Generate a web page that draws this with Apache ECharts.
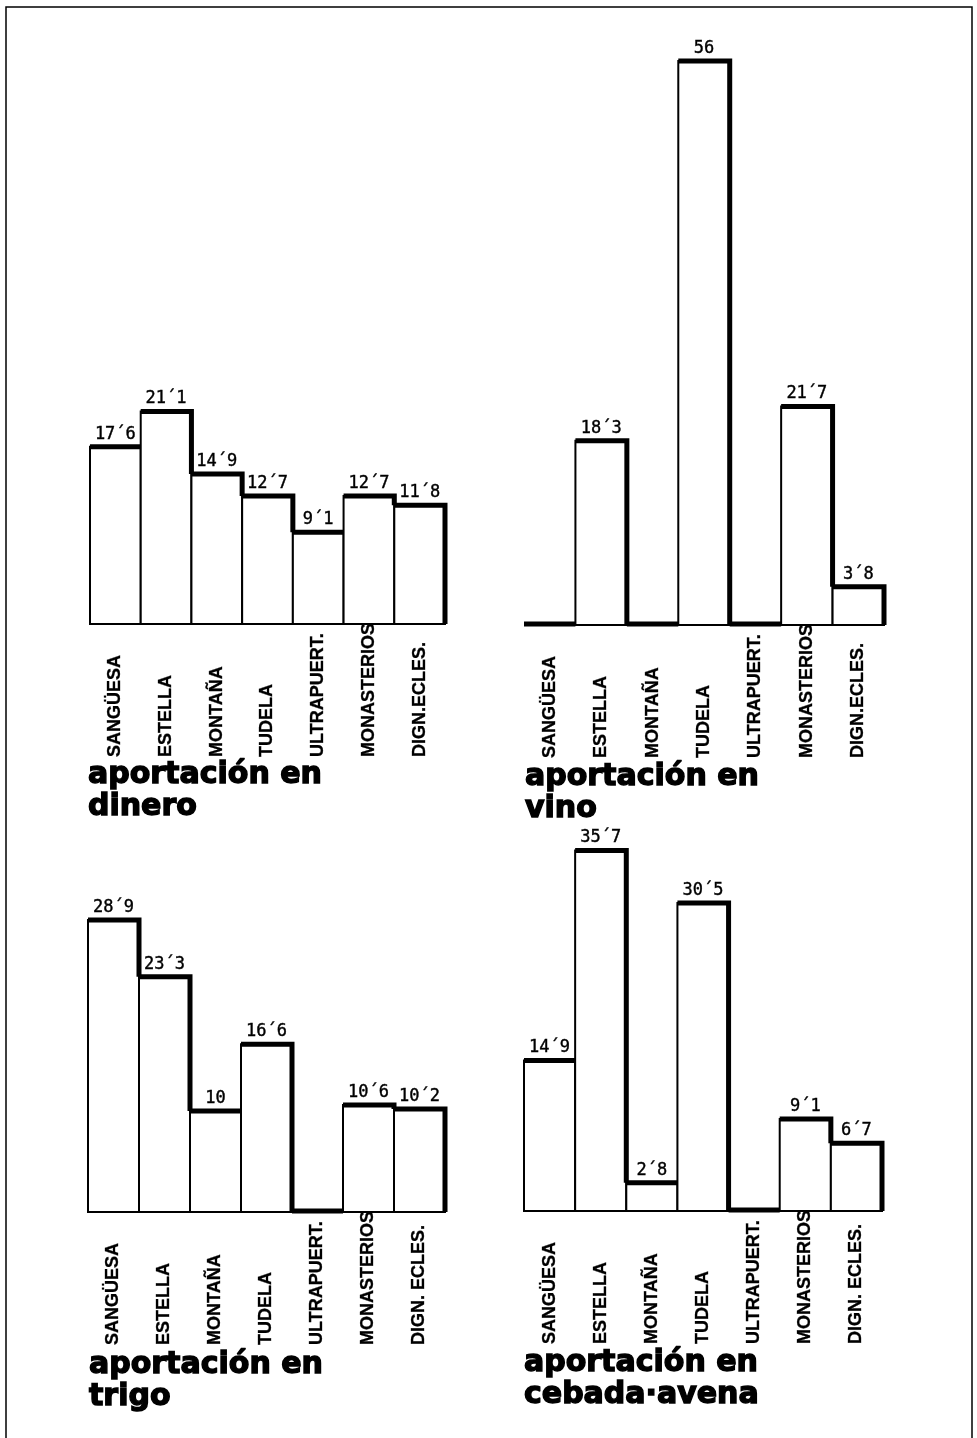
<!DOCTYPE html>
<html>
<head>
<meta charset="utf-8">
<script src="https://cdn.jsdelivr.net/npm/echarts@6/dist/echarts.min.js"></script>
<style>
html,body{margin:0;padding:0;background:#fff;}
#chart{width:977px;height:1438px;}
</style>
</head>
<body>
<div id="chart"></div>
<script>
// ---- data ----
const categoriesA = ['SANGÜESA', 'ESTELLA', 'MONTAÑA', 'TUDELA', 'ULTRAPUERT.', 'MONASTERIOS', 'DIGN.ECLES.'];
const categoriesB = ['SANGÜESA', 'ESTELLA', 'MONTAÑA', 'TUDELA', 'ULTRAPUERT.', 'MONASTERIOS', 'DIGN. ECLES.'];
const dinero = [17.6, 21.1, 14.9, 12.7, 9.1, 12.7, 11.8];
const vino = [0, 18.3, 0, 56, 0, 21.7, 3.8];
const trigo = [28.9, 23.3, 10, 16.6, 0, 10.6, 10.2];
const cebadaAvena = [14.9, 35.7, 2.8, 30.5, 0, 9.1, 6.7];
const titles = ['aportación en\ndinero', 'aportación en\nvino', 'aportación en\ntrigo', 'aportación en\ncebada·avena'];
const axisMax = 56;

function fmt(v) { return String(v).replace('.', '´'); }

const chart = echarts.init(document.getElementById('chart'));

const panels = [
  {cats: categoriesA, vals: dinero, left: 90, width: 355, bottom: 624, scale: 10.07, tLeft: 88, tTop: 759},
  {cats: categoriesA, vals: vino, left: 524, width: 360, bottom: 625, scale: 10.07, tLeft: 525, tTop: 761},
  {cats: categoriesB, vals: trigo, left: 88, width: 357, bottom: 1212, scale: 10.1, tLeft: 89, tTop: 1349},
  {cats: categoriesB, vals: cebadaAvena, left: 524, width: 358, bottom: 1211, scale: 10.1, tLeft: 524, tTop: 1347}
];

const grid = [], xAxis = [], yAxis = [], series = [], title = [];
panels.forEach((p, i) => {
  const h = axisMax * p.scale;
  grid.push({left: p.left, top: p.bottom - h, width: p.width, height: h, containLabel: false});
  xAxis.push({
    type: 'category', gridIndex: i, data: p.cats, boundaryGap: true,
    axisLine: {show: false}, axisTick: {show: false}, splitLine: {show: false},
    axisLabel: {
      interval: 0, rotate: 90, align: 'left', verticalAlign: 'middle', margin: 133,
      color: '#000', fontFamily: 'Liberation Sans', fontWeight: 'bold', fontSize: 18,
      textBorderColor: '#000', textBorderWidth: 0.3
    }
  });
  yAxis.push({
    type: 'value', gridIndex: i, min: 0, max: axisMax, show: false,
    splitLine: {show: false}
  });
  const vals = p.vals;
  series.push({
    type: 'custom', xAxisIndex: i, yAxisIndex: i,
    data: vals.map((v, k) => [k, v]),
    renderItem: function (params, api) {
      const k = api.value(0), v = api.value(1);
      const base = api.coord([k, 0]);
      const top = api.coord([k, v]);
      const w = api.size([1, 0])[0];
      const x0 = base[0] - w / 2, x1 = base[0] + w / 2;
      const children = [];
      if (v > 0) {
        children.push({
          type: 'rect', z2: 1,
          shape: {x: x0, y: top[1], width: w, height: base[1] - top[1]},
          style: {fill: '#fff', stroke: '#000', lineWidth: 2}
        });
        const next = params.dataIndex + 1 < vals.length ? vals[params.dataIndex + 1] : 0;
        const nextTop = api.coord([k, Math.min(next, v)])[1];
        children.push({
          type: 'polyline', z2: 5,
          shape: {points: [[x0, top[1]], [x1, top[1]], [x1, nextTop]]},
          style: {stroke: '#000', lineWidth: 5, fill: null, lineJoin: 'miter'}
        });
        children.push({
          type: 'text', z2: 6,
          style: {
            text: fmt(v), x: base[0], y: top[1] - 4,
            align: 'center', verticalAlign: 'bottom',
            fill: '#000', font: '17px "DejaVu Sans Mono"',
            stroke: '#000', lineWidth: 0.4
          }
        });
      } else {
        children.push({
          type: 'line', z2: 5,
          shape: {x1: x0, y1: base[1] - 1, x2: x1, y2: base[1] - 1},
          style: {stroke: '#000', lineWidth: 5}
        });
      }
      return {type: 'group', children: children};
    }
  });
  title.push({
    text: titles[i], left: p.tLeft, top: p.tTop, padding: 0,
    textStyle: {
      fontFamily: 'DejaVu Sans', fontWeight: 'bold', fontSize: 30, lineHeight: 32, color: '#000',
      textBorderColor: '#000', textBorderWidth: 1.4
    }
  });
});

chart.setOption({
  backgroundColor: '#fff',
  animation: false,
  title: title,
  grid: grid,
  xAxis: xAxis,
  yAxis: yAxis,
  series: series,
  graphic: [{
    type: 'rect', z: 0,
    shape: {x: 6, y: 7, width: 966, height: 1432},
    style: {fill: null, stroke: '#000', lineWidth: 1.5}
  }]
});
</script>
</body>
</html>
